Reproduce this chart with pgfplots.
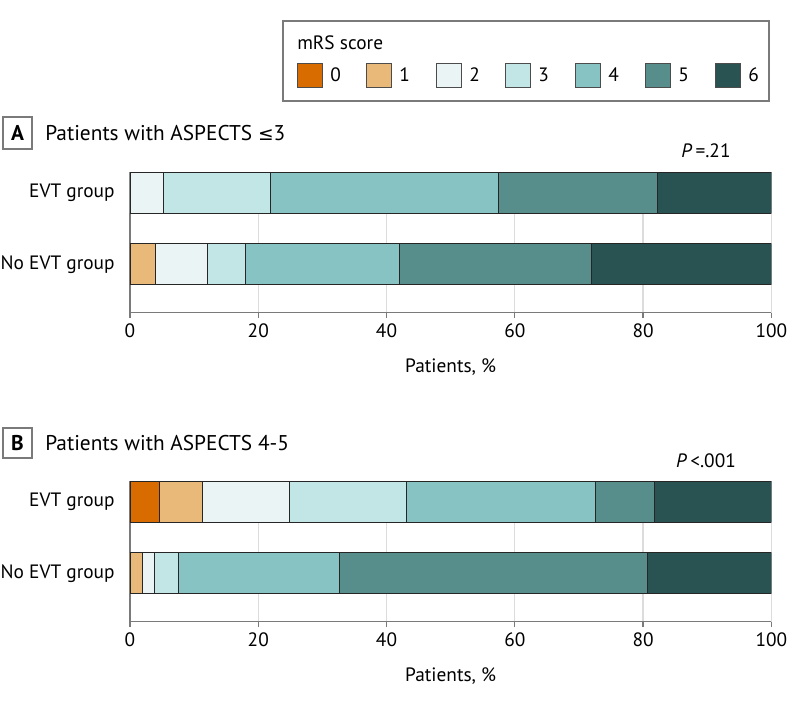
\documentclass[border=0pt]{standalone}
\usepackage{pgfplots}
\pgfplotsset{compat=1.18}
\usepackage{fontspec}
\setmainfont{PT Sans}
\newfontfamily\sym{DejaVu Sans}

\definecolor{c0}{HTML}{D96C00}
\definecolor{c1}{HTML}{E8B978}
\definecolor{c2}{HTML}{EAF4F4}
\definecolor{c3}{HTML}{C2E6E5}
\definecolor{c4}{HTML}{86C3C2}
\definecolor{c5}{HTML}{578D8B}
\definecolor{c6}{HTML}{295352}
\definecolor{axisgray}{HTML}{7A7A7A}
\definecolor{gridgray}{HTML}{DCDCDC}

\newcommand{\lbl}{\fontsize{14.5}{16}\selectfont}
\newcommand{\ttl}{\fontsize{16}{18}\selectfont}

\pgfplotsset{
  panel/.style={
    xbar stacked, scale only axis,
    width=481pt, height=105.5pt, anchor=north west,
    xmin=0, xmax=100, ymin=-0.675, ymax=1.286,
    bar width=30.75pt,
    axis x line*=bottom, axis y line*=left,
    axis line style={axisgray, line width=0.9pt},
    xtick={0,20,...,100}, ytick={0,1},
    yticklabels={No EVT group, EVT group},
    xmajorgrids, grid style={gridgray, line width=0.9pt},
    major y tick style={draw=none},
    major x tick style={axisgray, line width=0.9pt},
    tick align=outside, major tick length=4pt,
    xlabel={Patients, \%},
    tick label style={font=\lbl},
    label style={font=\lbl},
    xticklabel style={yshift=-1pt},
    yticklabel style={xshift=-4pt},
    xlabel style={yshift=-9pt},
    /pgf/number format/assume math mode=true,
    every axis plot/.append style={draw=black!85, line width=0.5pt},
  },
}

\begin{document}
\begin{tikzpicture}[x=0.75pt, y=-0.75pt]
\path[use as bounding box] (0,0) rectangle (794,706);

% legend
\draw[axisgray, line width=0.8pt] (283,21) rectangle (769,101);
\node[anchor=west, inner sep=0pt, font=\lbl] at (297,43) {mRS score};
\foreach \c/\xx in {0/297, 1/366, 2/436, 3/505, 4/575, 5/645, 6/715} {
  \draw[draw=black!70, line width=0.6pt, fill=c\c] (\xx,63) rectangle ++(25,24);
  \node[anchor=west, inner sep=0pt, font=\lbl] at (\xx+33,75) {\c};
}

% panel A
\draw[axisgray, line width=0.8pt] (3,117) rectangle (32,149);
\node[font=\ttl\bfseries, inner sep=0pt] at (17.5,133) {A};
\node[anchor=west, inner sep=0pt, font=\ttl] at (45,133) {Patients with ASPECTS {\sym\fontsize{14}{16}\selectfont ≤}3};
\node[font=\lbl, inner sep=0pt] at (706,151) {\textit{P}\,=.21};

\begin{axis}[panel, at={(97.5pt,-129pt)}]
\addplot[fill=c0] coordinates {(0,0) (0,1)};
\addplot[fill=c1] coordinates {(4,0) (0,1)};
\addplot[fill=c2] coordinates {(8,0) (5.2,1)};
\addplot[fill=c3] coordinates {(6,0) (16.7,1)};
\addplot[fill=c4] coordinates {(24,0) (35.5,1)};
\addplot[fill=c5] coordinates {(30,0) (24.8,1)};
\addplot[fill=c6] coordinates {(28,0) (17.8,1)};
\end{axis}

% panel B
\draw[axisgray, line width=0.8pt] (3,428) rectangle (32,458);
\node[font=\ttl\bfseries, inner sep=0pt] at (17.5,443) {B};
\node[anchor=west, inner sep=0pt, font=\ttl] at (45,443) {Patients with ASPECTS 4-5};
\node[font=\lbl, inner sep=0pt] at (706,461) {\textit{P}\,<.001};

\begin{axis}[panel, at={(97.5pt,-360.75pt)}]
\addplot[fill=c0] coordinates {(0,0) (4.5,1)};
\addplot[fill=c1] coordinates {(1.9,0) (6.8,1)};
\addplot[fill=c2] coordinates {(1.9,0) (13.6,1)};
\addplot[fill=c3] coordinates {(3.8,0) (18.2,1)};
\addplot[fill=c4] coordinates {(25.0,0) (29.5,1)};
\addplot[fill=c5] coordinates {(48.1,0) (9.1,1)};
\addplot[fill=c6] coordinates {(19.3,0) (18.3,1)};
\end{axis}
\end{tikzpicture}
\end{document}
